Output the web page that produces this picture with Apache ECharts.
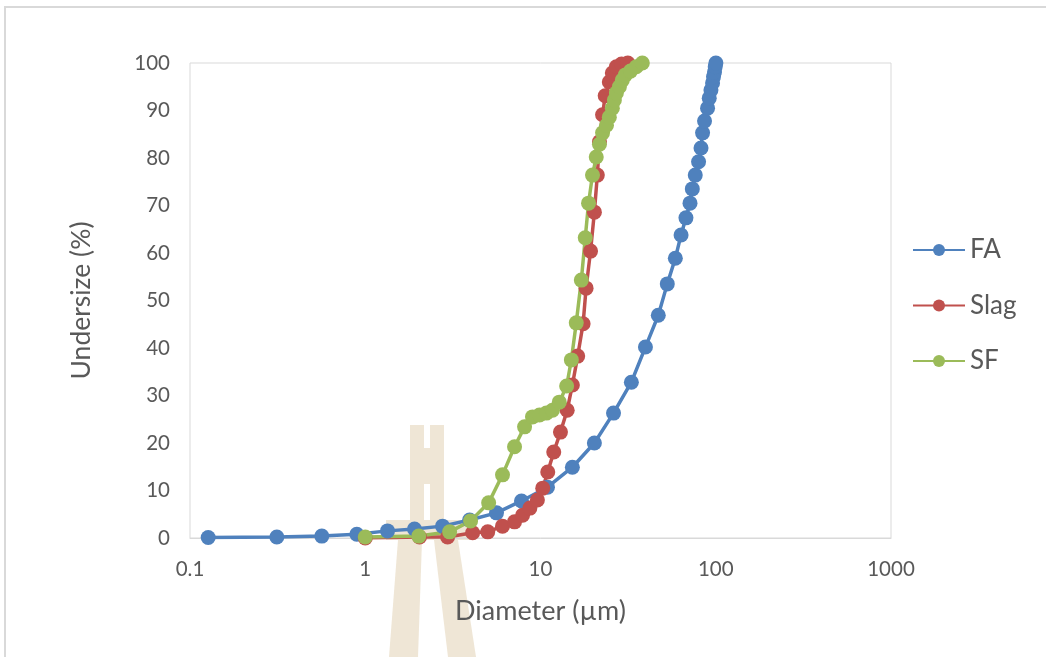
<!DOCTYPE html>
<html>
<head>
<meta charset="utf-8">
<script src="https://cdn.jsdelivr.net/npm/echarts@6/dist/echarts.min.js"></script>
<style>
html,body{margin:0;padding:0;background:#fff;}
#c{width:1046px;height:657px;}
</style>
</head>
<body>
<div id="c"></div>
<script>
// ---- data ----
const seriesNames = ['FA', 'Slag', 'SF'];
const xTickLabels = ['0.1', '1', '10', '100', '1000'];
const yTickLabels = ['0','10','20','30','40','50','60','70','80','90','100'];

const faDiameter = [0.127, 0.313, 0.565, 0.895, 1.34, 1.91, 2.76, 3.94, 5.61, 7.79, 10.96, 15.2, 20.3, 26.1, 33.0, 39.7, 47.0, 52.9, 58.8, 63.4, 67.6, 71.3, 73.5, 76.4, 79.8, 82.4, 84.1, 86.3, 89.8, 91.8, 93.9, 95.9, 97.1, 98.4, 99.3, 100.2];
const faUndersize = [0.1, 0.2, 0.4, 0.8, 1.5, 1.9, 2.5, 3.8, 5.3, 7.8, 10.7, 14.9, 20.0, 26.3, 32.8, 40.2, 46.9, 53.5, 58.9, 63.8, 67.4, 70.5, 73.5, 76.4, 79.2, 82.1, 85.3, 87.8, 90.5, 92.6, 94.3, 95.8, 97.1, 98.1, 99.2, 100];

const slagDiameter = [1.0, 2.04, 2.95, 4.1, 5.0, 6.07, 7.11, 7.9, 8.7, 9.6, 10.3, 11.0, 11.9, 13.0, 14.2, 15.2, 16.3, 17.5, 18.2, 19.3, 20.3, 21.1, 21.7, 22.6, 23.4, 24.7, 25.7, 27.1, 29.0, 31.5];
const slagUndersize = [0, 0.2, 0.2, 1.1, 1.3, 2.5, 3.4, 4.8, 6.3, 8.0, 10.5, 13.9, 18.1, 22.3, 26.9, 32.2, 38.3, 45.1, 52.6, 60.4, 68.6, 76.4, 83.4, 89.1, 93.1, 96.0, 97.9, 99.2, 99.8, 100];

const sfDiameter = [1.0, 2.02, 3.03, 3.99, 5.06, 6.07, 7.11, 8.11, 9.0, 9.87, 10.8, 11.7, 12.8, 14.1, 15.0, 16.0, 17.1, 18.0, 18.8, 19.8, 20.8, 21.7, 22.6, 23.8, 24.7, 25.7, 26.4, 27.1, 28.2, 29.3, 30.5, 32.6, 35.2, 38.1];
const sfUndersize = [0.2, 0.4, 1.3, 3.6, 7.4, 13.3, 19.2, 23.4, 25.5, 25.9, 26.3, 26.9, 28.6, 32.0, 37.5, 45.3, 54.3, 63.2, 70.5, 76.4, 80.2, 82.9, 85.3, 86.9, 88.6, 90.5, 92.2, 93.7, 95.0, 96.4, 97.5, 98.3, 99.2, 100];

const colors = ['#4F81BD', '#C0504D', '#9BBB59'];

function pairs(xs, ys){ return xs.map((x,i)=>[x, ys[i]]); }
const datasets = [pairs(faDiameter, faUndersize), pairs(slagDiameter, slagUndersize), pairs(sfDiameter, sfUndersize)];

const FONT = 'Lato, "Open Sans", sans-serif';
const chart = echarts.init(document.getElementById('c'), null, {renderer:'canvas'});

const wm = 'rgba(228,214,186,0.6)';
const option = {
  animation: false,
  backgroundColor: '#fff',
  textStyle: {fontFamily: FONT},
  graphic: [
    {type:'rect', z:-10, silent:true, shape:{x:5, y:7, width:1060, height:670}, style:{fill:'none', stroke:'#d9d9d9', lineWidth:2}},
    // faint watermark logo (background decoration)
    {type:'rect', z:-5, silent:true, shape:{x:410, y:425, width:34, height:95}, style:{fill:wm}},
    {type:'rect', z:-4, silent:true, shape:{x:424, y:425, width:6, height:23}, style:{fill:'#fff'}},
    {type:'rect', z:-4, silent:true, shape:{x:424, y:484, width:6, height:36}, style:{fill:'#fff'}},
    {type:'rect', z:-5, silent:true, shape:{x:386, y:520, width:84, height:20}, style:{fill:wm}},
    {type:'polygon', z:-5, silent:true, shape:{points:[[398,540],[422,540],[418,657],[389,657]]}, style:{fill:wm}},
    {type:'polygon', z:-5, silent:true, shape:{points:[[434,540],[458,540],[476,657],[448,657]]}, style:{fill:wm}}
  ],
  grid: {left:190, right:155, top:63, bottom:119, show:true, borderColor:'#d9d9d9', borderWidth:1, backgroundColor:'transparent'},
  legend: {
    orient:'vertical', left:912, top:237, padding:0, itemGap:29.5, itemWidth:52, itemHeight:15,
    data: seriesNames,
    textStyle:{fontSize:26, lineHeight:26, color:'#595959', fontFamily:FONT}
  },
  xAxis: {
    type:'log', logBase:10, min:0.1, max:1000,
    name:'Diameter (µm)', nameLocation:'middle', nameGap:60,
    nameTextStyle:{fontSize:27, color:'#595959', fontFamily:FONT},
    axisLine:{show:true, lineStyle:{color:'#d9d9d9', width:1}},
    axisTick:{show:false},
    splitLine:{show:false},
    minorSplitLine:{show:false},
    axisLabel:{fontSize:20.5, color:'#595959', margin:21, fontFamily:FONT,
      formatter:(v)=>{ const k = Math.round(Math.log10(v))+1; return xTickLabels[k] !== undefined ? xTickLabels[k] : ''; }}
  },
  yAxis: {
    type:'value', min:0, max:100, interval:10,
    name:'Undersize (%)', nameLocation:'middle', nameGap:95, nameRotate:90,
    nameTextStyle:{fontSize:26.5, color:'#595959', fontFamily:FONT},
    axisLine:{show:false}, axisTick:{show:false}, splitLine:{show:false},
    axisLabel:{fontSize:20.5, color:'#595959', margin:20, fontFamily:FONT,
      formatter:(v)=>yTickLabels[Math.round(v/10)]}
  },
  series: seriesNames.map((n,i)=>({
    name:n, type:'line', data:datasets[i],
    symbol:'circle', symbolSize:15, showSymbol:true,
    itemStyle:{color:colors[i]},
    lineStyle:{color:colors[i], width:3.5},
    emphasis:{disabled:true}
  }))
};
chart.setOption(option);
</script>
</body>
</html>
